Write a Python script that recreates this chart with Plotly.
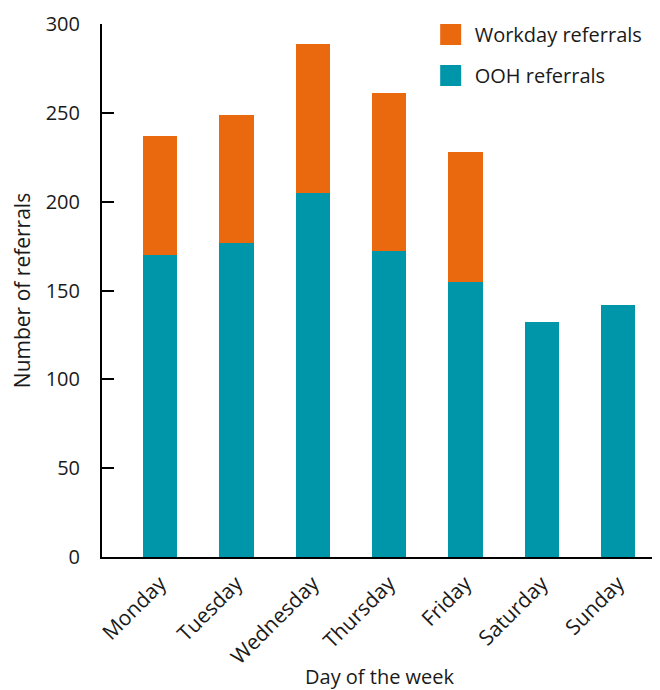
import plotly.graph_objects as go

days = ["Monday", "Tuesday", "Wednesday", "Thursday", "Friday", "Saturday", "Sunday"]
ooh = [170, 177, 205, 172, 155, 132, 142]
workday = [67, 72, 84, 89, 73, 0, 0]
y_ticks = [0, 50, 100, 150, 200, 250, 300]

ORANGE = "#EA690F"
TEAL = "#0096AA"
FONT = "Open Sans"
TXT = "#1a1a1a"
FS = 21

fig = go.Figure()
fig.add_trace(go.Bar(x=days, y=ooh, marker=dict(color=TEAL, line=dict(width=0)),
                     width=0.45, showlegend=False, name="OOH referrals"))
fig.add_trace(go.Bar(x=days, y=workday, marker=dict(color=ORANGE, line=dict(width=0)),
                     width=0.45, showlegend=False, name="Workday referrals"))
# legend entries with larger square swatches
fig.add_trace(go.Scatter(x=[None], y=[None], mode="markers", name="Workday referrals",
                         legendgroup="a",
                         marker=dict(symbol="square", size=16, color=ORANGE,
                                     line=dict(color=ORANGE, width=5))))
fig.add_trace(go.Scatter(x=[None], y=[None], mode="markers", name="OOH referrals",
                         legendgroup="b",
                         marker=dict(symbol="square", size=16, color=TEAL,
                                     line=dict(color=TEAL, width=5))))

fig.update_layout(
    width=660, height=690,
    barmode="stack",
    paper_bgcolor="white", plot_bgcolor="white",
    font=dict(family=FONT, size=FS, color=TXT),
    margin=dict(l=94, r=11, t=16, b=141, autoexpand=False),
    legend=dict(x=0.585, y=1.017, xanchor="left", yanchor="top",
                traceorder="grouped", tracegroupgap=12,
                font=dict(size=20), bgcolor="rgba(0,0,0,0)", itemwidth=38),
    xaxis=dict(range=[-0.76, 6.51], showline=True, linecolor="black", linewidth=2,
               ticks="", tickangle=-45, showgrid=False, zeroline=False,
               ticklabelstandoff=4, automargin=False, tickfont=dict(size=21)),
    yaxis=dict(range=[0, 300], tickvals=y_ticks, showline=True, linecolor="black",
               linewidth=2, ticks="inside", ticklen=12, tickwidth=2, tickcolor="black",
               showgrid=False, zeroline=False, ticklabelstandoff=16, automargin=False,
               tickfont=dict(size=20),
               title=dict(text="Number of referrals", standoff=12, font=dict(size=FS))),
    annotations=[dict(text="Day of the week", xref="paper", yref="paper",
                      x=0.5, y=-0.225, xanchor="center", yanchor="middle",
                      showarrow=False, font=dict(size=20))],
)

fig.write_html("out.html")
